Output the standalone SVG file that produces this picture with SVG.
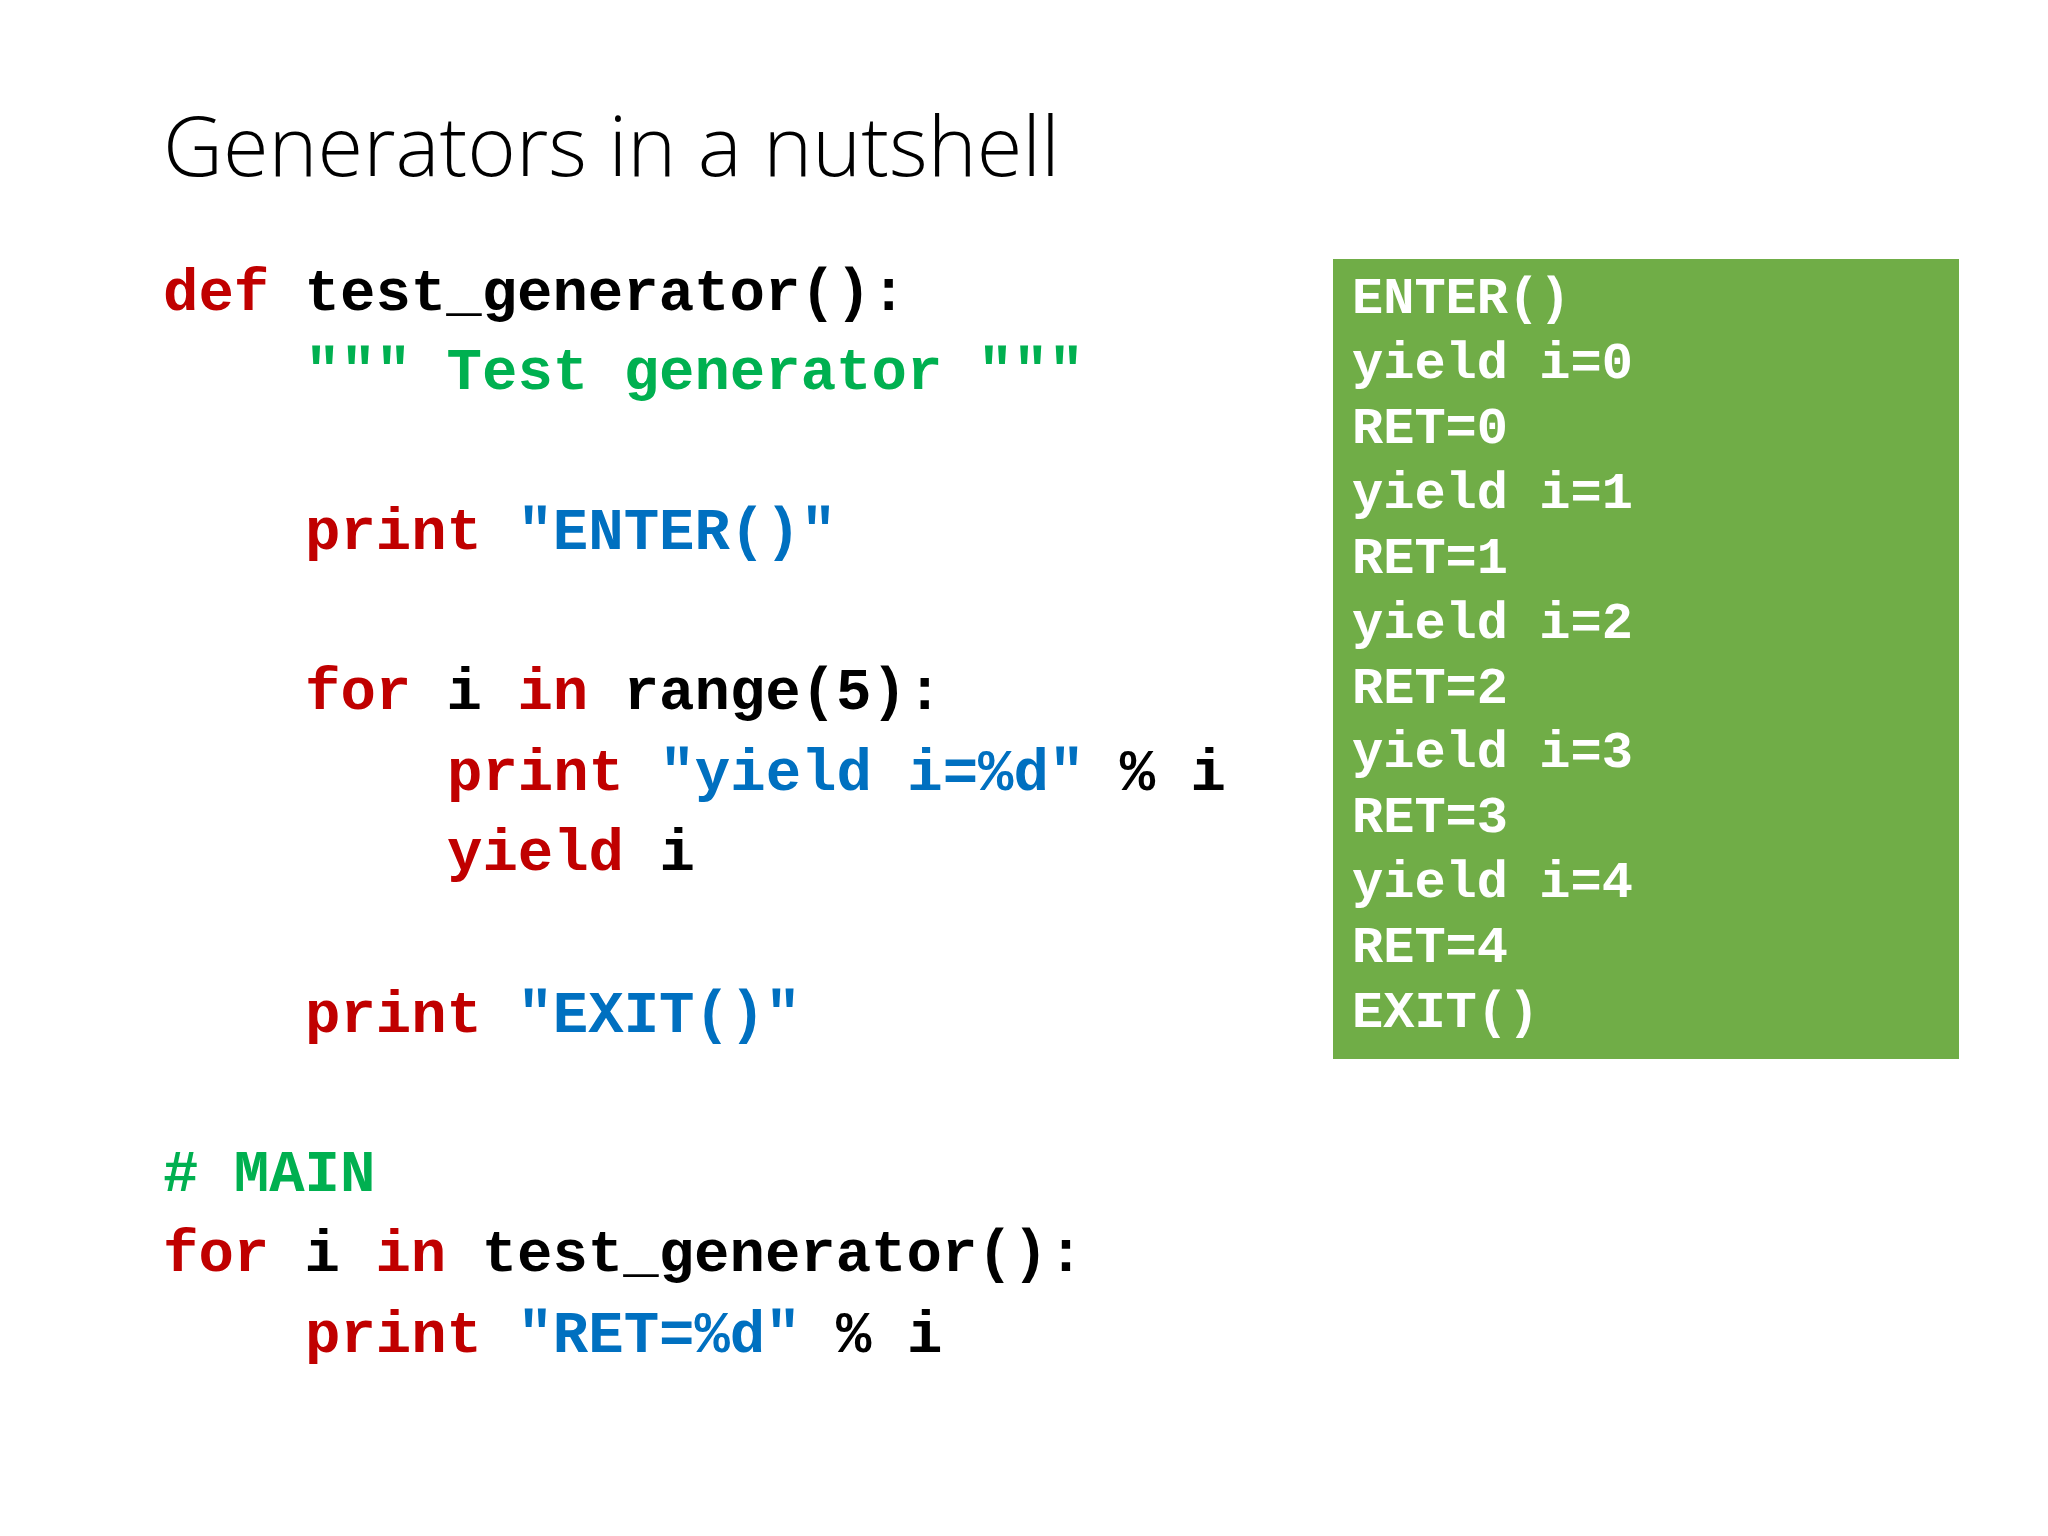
<svg xmlns="http://www.w3.org/2000/svg" width="2048" height="1536" viewBox="0 0 2048 1536">
<style>
.c{font-family:"Liberation Mono","DejaVu Sans Mono",monospace;font-weight:bold;font-size:59px;white-space:pre}
.o{font-family:"Liberation Mono","DejaVu Sans Mono",monospace;font-weight:bold;font-size:52px;fill:#fff;white-space:pre}
.r{fill:#C00000}.b{fill:#0070C0}.g{fill:#00B050}.k{fill:#000}
</style>
<rect width="2048" height="1536" fill="#fff"/>
<text id="title" x="163" y="176" font-family="Open Sans, sans-serif" font-weight="300" font-size="83" fill="#000">Generators in a nutshell</text>
<g id="code" class="c" xml:space="preserve">
<text x="163" y="310"><tspan class="r">def</tspan><tspan class="k"> test_generator():</tspan></text>
<text x="305" y="389" class="g">""" Test generator """</text>
<text x="305" y="549"><tspan class="r">print</tspan><tspan class="b"> "ENTER()"</tspan></text>
<text x="305" y="709"><tspan class="r">for</tspan><tspan class="k"> i </tspan><tspan class="r">in</tspan><tspan class="k"> range(5):</tspan></text>
<text x="447" y="790"><tspan class="r">print</tspan><tspan class="b"> "yield i=%d"</tspan><tspan class="k"> % i</tspan></text>
<text x="447" y="870"><tspan class="r">yield</tspan><tspan class="k"> i</tspan></text>
<text x="305" y="1032"><tspan class="r">print</tspan><tspan class="b"> "EXIT()"</tspan></text>
<text x="163" y="1191" class="g"># MAIN</text>
<text x="163" y="1271"><tspan class="r">for</tspan><tspan class="k"> i </tspan><tspan class="r">in</tspan><tspan class="k"> test_generator():</tspan></text>
<text x="305" y="1352"><tspan class="r">print</tspan><tspan class="b"> "RET=%d"</tspan><tspan class="k"> % i</tspan></text>
</g>
<g id="output">
<rect x="1333" y="259" width="626" height="800" fill="#70AD47"/>
<g class="o">
<text x="1352" y="313">ENTER()</text>
<text x="1352" y="378">yield i=0</text>
<text x="1352" y="443">RET=0</text>
<text x="1352" y="508">yield i=1</text>
<text x="1352" y="573">RET=1</text>
<text x="1352" y="638">yield i=2</text>
<text x="1352" y="703">RET=2</text>
<text x="1352" y="767">yield i=3</text>
<text x="1352" y="832">RET=3</text>
<text x="1352" y="897">yield i=4</text>
<text x="1352" y="962">RET=4</text>
<text x="1352" y="1027">EXIT()</text>
</g>
</g>
<g id="connectors"/>
</svg>
